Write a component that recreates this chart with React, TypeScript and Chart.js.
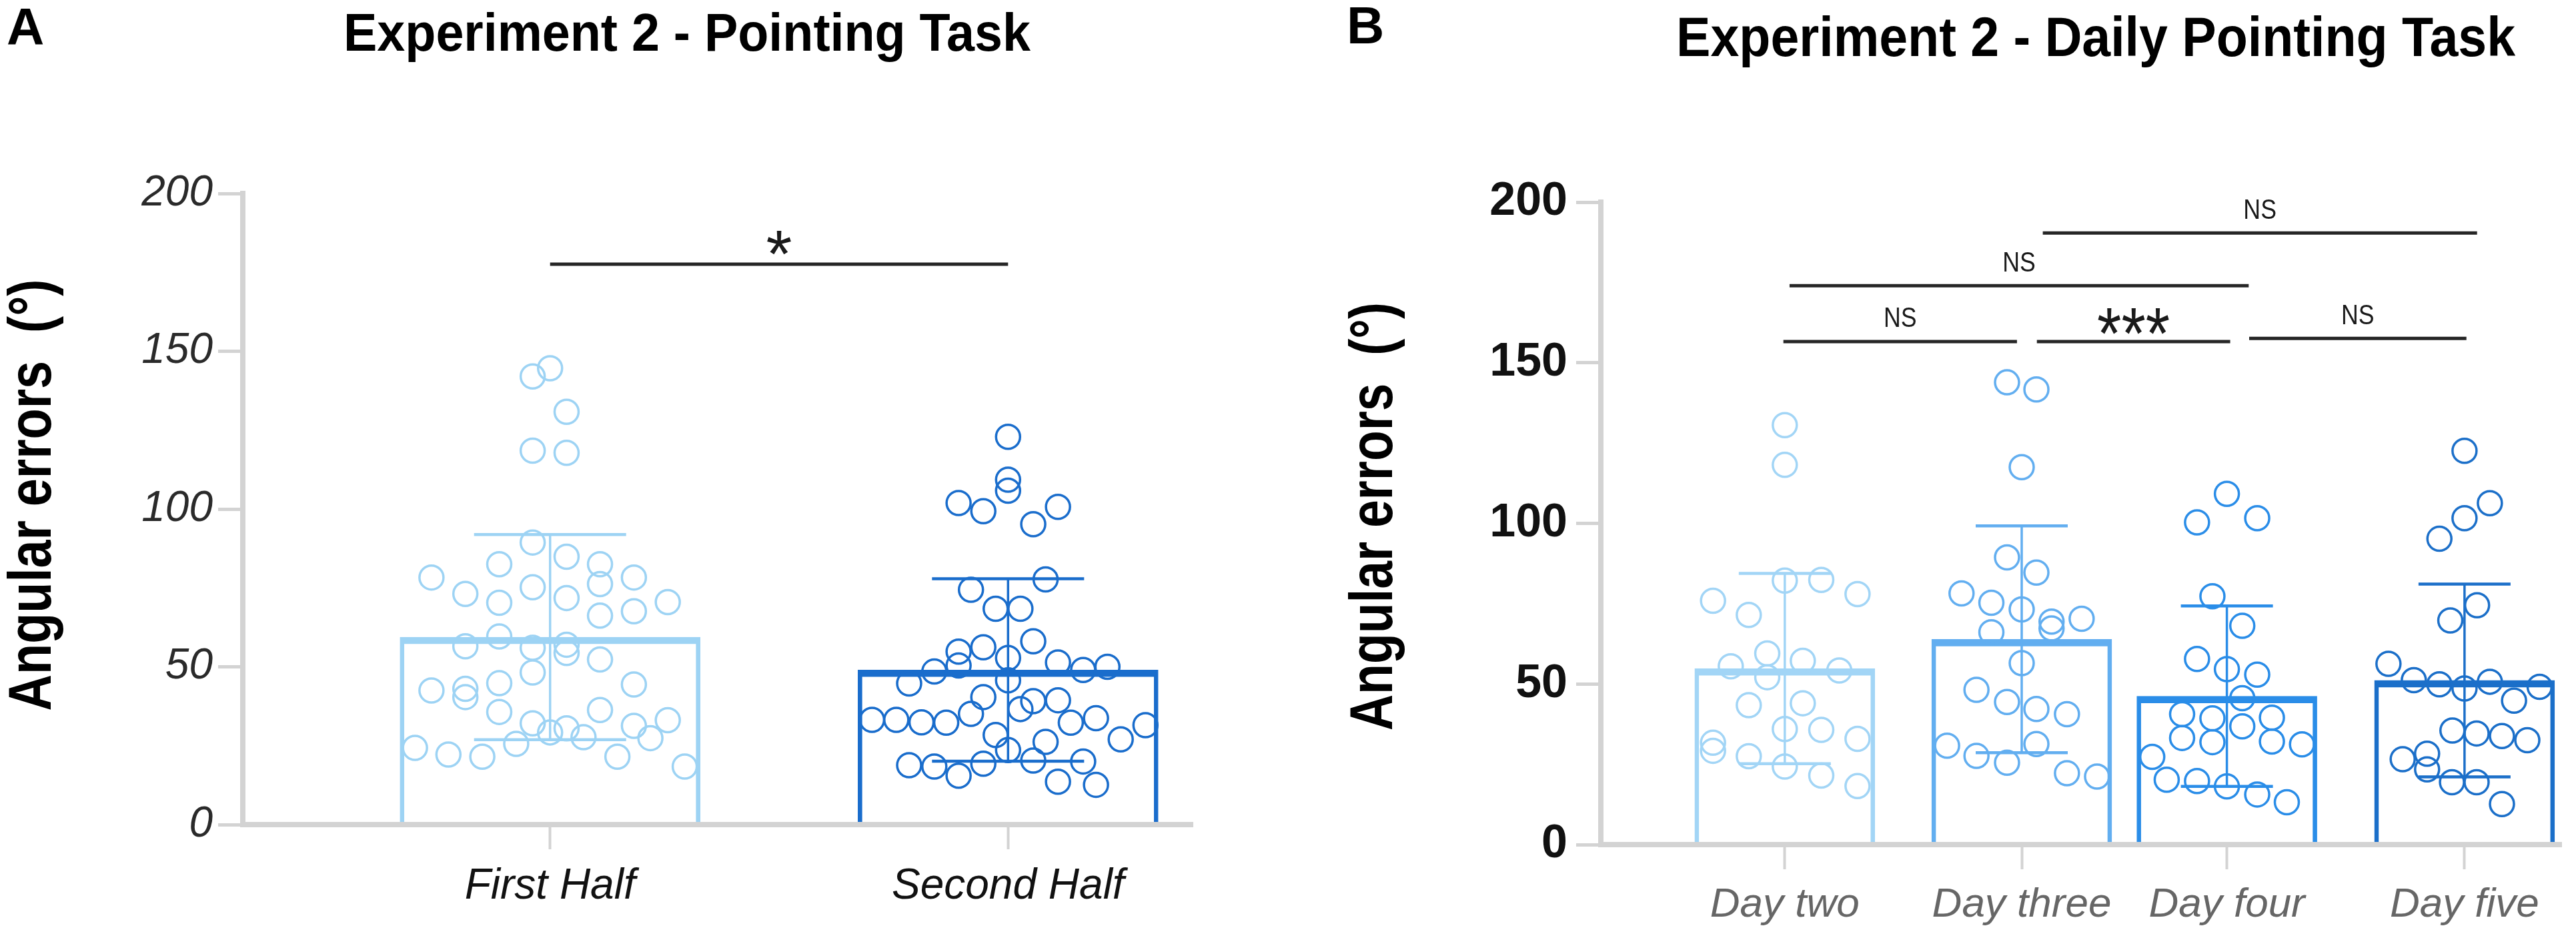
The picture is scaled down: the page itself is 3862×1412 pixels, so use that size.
import React, { useEffect, useRef } from 'react';
import { Chart, registerables } from 'chart.js';

Chart.register(...registerables);

const SANS = "'Liberation Sans', Arial, Helvetica, sans-serif";
const AXIS = '#d3d3d3';

// ---------------- Panel A : Experiment 2 - Pointing Task ----------------
const aTitle = 'Experiment 2 - Pointing Task';
const aCategories = ['First Half', 'Second Half'];
const aPositions = [1, 2];
const aMeans = [59.4, 49.0];
const aSD = [32.5, 28.9];
const aColors = ['#9dd3f4', '#1a6dcc'];
const aYTicks = [0, 50, 100, 150, 200];

const aFirstValues = [
  142.0, 144.6, 130.8, 118.5, 117.8, 89.4, 82.5, 84.9, 82.5, 78.3, 78.3, 73.1, 75.2, 76.2, 70.3, 71.8,
  70.5, 66.2, 67.6, 59.6, 56.5, 56.0, 57.0, 54.4, 52.3, 48.2, 42.5, 43.0, 40.4, 44.8, 44.4, 35.7,
  36.3, 32.1, 29.2, 30.5, 27.7, 31.3, 33.1, 27.4, 25.6, 24.3, 22.2, 21.5, 21.5, 18.4,
];
const aFirstJitter = [
  -0.038, 0, 0.036, -0.038, 0.036, -0.038, -0.111, 0.036, 0.109, -0.259, 0.183, -0.185, -0.038, 0.109, -0.111, 0.036,
  0.257, 0.109, 0.183, -0.111, -0.185, -0.038, 0.036, 0.036, 0.109, -0.038, -0.259, -0.185, -0.185, -0.111, 0.183, -0.111,
  0.109, -0.038, 0, 0.036, 0.073, 0.183, 0.257, 0.219, -0.074, -0.295, -0.222, -0.148, 0.147, 0.294,
];
const aSecondValues = [
  122.9, 109.3, 105.8, 101.9, 99.3, 100.7, 95.2, 77.7, 74.4, 68.4, 68.4, 58.1, 54.8, 56.2, 52.8, 50.4,
  48.5, 51.4, 49.0, 50.0, 44.7, 45.7, 40.4, 39.1, 39.4, 36.6, 35.1, 33.2, 33.2, 32.4, 32.3, 32.3,
  33.7, 31.5, 27.0, 28.4, 26.2, 23.6, 18.8, 18.4, 15.5, 19.3, 20.3, 20.0, 13.6, 12.6,
];
const aSecondJitter = [
  0, 0, 0, -0.108, -0.054, 0.109, 0.055, 0.082, -0.081, -0.027, 0.027, 0.055, -0.108, -0.054, 0, -0.108,
  -0.161, 0.109, 0.164, 0.217, -0.216, 0, -0.054, 0.055, 0.109, 0.027, -0.081, -0.297, -0.244, -0.189, -0.135, 0.137,
  0.192, 0.300, 0.246, -0.027, 0.082, 0, -0.216, -0.161, -0.108, -0.054, 0.055, 0.164, 0.109, 0.192,
];
const aSigFrom = [1];
const aSigTo = [2];
const aSigY = [177.6];
const aSigLabels = ['*'];

// ---------------- Panel B : Experiment 2 - Daily Pointing Task ----------------
const bTitle = 'Experiment 2 - Daily Pointing Task';
const bCategories = ['Day two', 'Day three', 'Day four', 'Day five'];
const bPositions = [1, 2, 2.866, 3.869];
const bMeans = [54.8, 63.9, 46.2, 51.1];
const bSD = [29.6, 35.3, 28.1, 30.0];
const bColors = ['#a2d5f6', '#62aef0', '#2a8de8', '#1b6fc9'];
const bYTicks = [0, 50, 100, 150, 200];

const bDay2Values = [
  130.6, 118.2, 82.2, 82.4, 75.9, 78.0, 71.5, 59.5, 55.5, 57.2, 54.2, 52.1, 43.4, 44.0, 36.0, 35.7,
  32.9, 31.7, 29.2, 27.5, 24.3, 21.5, 18.2,
];
const bDay2Jitter = [
  0, 0, 0, 0.154, -0.303, 0.307, -0.152, -0.074, -0.228, 0.076, 0.230, -0.074, -0.152, 0.076, 0, 0.154,
  0.307, -0.303, -0.303, -0.152, 0, 0.154, 0.307,
];
const bDay3Values = [
  143.9, 141.7, 117.5, 89.4, 84.7, 78.2, 75.3, 73.2, 69.4, 67.3, 70.3, 66.1, 56.5, 48.2, 44.4, 42.2,
  40.6, 30.8, 31.3, 27.6, 25.5, 22.2, 21.2,
];
const bDay3Jitter = [
  -0.062, 0.062, 0, -0.062, 0.062, -0.254, -0.128, 0, 0.126, 0.126, 0.253, -0.128, 0, -0.191, -0.062, 0.062,
  0.191, -0.315, 0.062, -0.191, -0.062, 0.191, 0.318,
];
const bDay4Values = [
  109.2, 100.3, 101.6, 77.3, 68.1, 57.8, 54.6, 52.9, 45.6, 40.6, 39.3, 36.8, 39.5, 33.2, 31.9, 32.1,
  31.2, 27.3, 20.2, 19.8, 18.1, 15.6, 13.2,
];
const bDay4Jitter = [
  0, -0.126, 0.128, -0.061, 0.065, -0.126, 0, 0.128, 0.065, -0.189, -0.061, 0.065, 0.190, -0.189, -0.061, 0.190,
  0.317, -0.315, -0.254, -0.126, 0, 0.128, 0.253,
];
const bDay5Values = [
  122.6, 106.3, 101.6, 95.2, 74.5, 69.8, 56.3, 51.2, 49.9, 48.6, 50.7, 44.8, 49.1, 35.5, 34.6, 33.8,
  32.5, 28.3, 26.6, 23.4, 19.4, 19.4, 12.6,
];
const bDay5Jitter = [
  0, 0.107, 0, -0.106, 0.053, -0.06, -0.321, -0.214, -0.106, 0, 0.107, 0.209, 0.317, -0.051, 0.051, 0.158,
  0.265, -0.158, -0.261, -0.158, -0.053, 0.051, 0.158,
];
const bSigFrom = [2.089, 1.02, 0.994, 2.064, 2.96];
const bSigTo = [3.922, 2.958, 1.98, 2.88, 3.877];
const bSigY = [190.4, 174.0, 156.6, 156.6, 157.6];
const bSigLabels = ['NS', 'NS', 'NS', '***', 'NS'];

type Spec = {
  width: number; height: number;
  plotLeft: number; plotRight: number; plotTop: number; plotBottom: number;
  xMin: number; xMax: number;
  positions: number[]; categories: string[]; means: number[]; sds: number[]; colors: string[];
  yTicks: number[];
  groups: { values: number[]; jitter: number[] }[];
  barPx: number; capPx: number;
  yTickFont: any; yTickColor: string; yTickPad: number;
  xTickFont: any; xTickColor: string; xTickPad: number;
  letter: string; letterX: number; letterY: number;
  title: string; titleCX: number; titleY: number; titleW: number; titleSize: number;
  yTitleX: number; yTitleCY: number; yTitleLen: number;
  sigFrom: number[]; sigTo: number[]; sigY: number[]; sigLabels: string[];
  sigFont: string; sigScale: number; starFont: string; starScale: number; sigGap: number; starGap: number;
};

function inkCentered(ctx: CanvasRenderingContext2D, text: string, font: string, cx: number, cy: number, sx: number) {
  ctx.save();
  ctx.font = font;
  ctx.textAlign = 'center';
  ctx.textBaseline = 'alphabetic';
  const m = ctx.measureText(text);
  const base = cy + (m.actualBoundingBoxAscent - m.actualBoundingBoxDescent) / 2;
  ctx.translate(cx, base);
  ctx.scale(sx, 1);
  ctx.fillText(text, 0, 0);
  ctx.restore();
}

function makeConfig(spec: Spec): any {
  const overlay = {
    id: 'overlay',
    afterDatasetsDraw(chart: any) {
      const ctx: CanvasRenderingContext2D = chart.ctx;
      const xs = chart.scales.x;
      const ys = chart.scales.y;
      ctx.save();
      spec.positions.forEach((p, i) => {
        const x = xs.getPixelForValue(p);
        const yt = ys.getPixelForValue(spec.means[i] + spec.sds[i]);
        const yb = ys.getPixelForValue(spec.means[i] - spec.sds[i]);
        ctx.strokeStyle = spec.colors[i];
        ctx.lineWidth = 3.5;
        ctx.beginPath();
        ctx.moveTo(x, yt);
        ctx.lineTo(x, yb);
        ctx.stroke();
        ctx.lineWidth = 4.5;
        ctx.beginPath();
        ctx.moveTo(x - spec.capPx / 2, yt);
        ctx.lineTo(x + spec.capPx / 2, yt);
        ctx.moveTo(x - spec.capPx / 2, yb);
        ctx.lineTo(x + spec.capPx / 2, yb);
        ctx.stroke();
      });
      ctx.restore();
    },
    afterDraw(chart: any) {
      const ctx: CanvasRenderingContext2D = chart.ctx;
      const xs = chart.scales.x;
      const ys = chart.scales.y;
      ctx.save();
      ctx.fillStyle = '#000';
      // panel letter
      ctx.font = `bold 78px ${SANS}`;
      ctx.textAlign = 'left';
      ctx.textBaseline = 'alphabetic';
      ctx.fillText(spec.letter, spec.letterX, spec.letterY);
      // title (condensed bold look)
      ctx.save();
      ctx.font = `bold ${spec.titleSize}px ${SANS}`;
      const tw = ctx.measureText(spec.title).width;
      ctx.translate(spec.titleCX, spec.titleY);
      ctx.scale(spec.titleW / tw, 1);
      ctx.textAlign = 'center';
      ctx.fillText(spec.title, 0, 0);
      ctx.restore();
      // y axis title
      ctx.save();
      const yTitle = 'Angular errors  (°)';
      ctx.font = `bold 90px ${SANS}`;
      const yw = ctx.measureText(yTitle).width;
      ctx.translate(spec.yTitleX, spec.yTitleCY);
      ctx.rotate(-Math.PI / 2);
      ctx.scale(spec.yTitleLen / yw, 1);
      ctx.textAlign = 'center';
      ctx.fillText(yTitle, 0, 0);
      ctx.restore();
      // significance brackets
      spec.sigLabels.forEach((lab, i) => {
        const x1 = xs.getPixelForValue(spec.sigFrom[i]);
        const x2 = xs.getPixelForValue(spec.sigTo[i]);
        const y = ys.getPixelForValue(spec.sigY[i]);
        ctx.strokeStyle = '#262626';
        ctx.lineWidth = 5;
        ctx.beginPath();
        ctx.moveTo(x1, y);
        ctx.lineTo(x2, y);
        ctx.stroke();
        ctx.fillStyle = '#1a1a1a';
        const isStar = lab.indexOf('*') >= 0;
        inkCentered(
          ctx,
          lab,
          isStar ? spec.starFont : spec.sigFont,
          (x1 + x2) / 2,
          y - (isStar ? spec.starGap : spec.sigGap),
          isStar ? spec.starScale : spec.sigScale,
        );
      });
      ctx.restore();
    },
  };

  const scatterSets = spec.groups.map((g, gi) => ({
    type: 'scatter',
    order: 1,
    data: g.values.map((v, i) => ({ x: spec.positions[gi] + g.jitter[i], y: v })),
    showLine: false,
    pointRadius: 18,
    pointBorderWidth: 3.5,
    pointBackgroundColor: 'rgba(255,255,255,0)',
    pointBorderColor: spec.colors[gi],
    clip: false,
  }));

  const barSet = {
    type: 'bar',
    order: 5,
    data: spec.positions.map((p, i) => ({ x: p, y: spec.means[i] })),
    backgroundColor: 'rgba(255,255,255,0)',
    borderColor: spec.colors,
    borderWidth: { top: 10, left: 6, right: 6, bottom: 0 },
    borderSkipped: false,
    barThickness: spec.barPx,
  };

  return {
    type: 'bar',
    data: { datasets: [...scatterSets, barSet] },
    options: {
      responsive: false,
      maintainAspectRatio: false,
      animation: false,
      events: [],
      layout: { padding: { left: 0, top: spec.plotTop, right: spec.width - spec.plotRight, bottom: 0 } },
      plugins: { legend: { display: false }, tooltip: { enabled: false }, title: { display: false } },
      scales: {
        x: {
          type: 'linear',
          offset: false,
          min: spec.xMin,
          max: spec.xMax,
          afterBuildTicks: (s: any) => {
            s.ticks = spec.positions.map((v) => ({ value: v }));
          },
          afterFit: (s: any) => {
            s.height = spec.height - spec.plotBottom;
          },
          ticks: {
            autoSkip: false,
            maxRotation: 0,
            callback: (v: any) => {
              const i = spec.positions.indexOf(v);
              return i >= 0 ? spec.categories[i] : '';
            },
            font: spec.xTickFont,
            color: spec.xTickColor,
            padding: spec.xTickPad,
          },
          grid: {
            offset: false,
            drawOnChartArea: false,
            drawTicks: true,
            tickLength: 37,
            tickWidth: 4,
            tickColor: AXIS,
            color: AXIS,
          },
          border: { display: true, color: AXIS, width: 8, z: 1 },
        },
        y: {
          type: 'linear',
          min: 0,
          max: 200,
          afterBuildTicks: (s: any) => {
            s.ticks = spec.yTicks.map((v) => ({ value: v }));
          },
          afterFit: (s: any) => {
            s.width = spec.plotLeft;
          },
          ticks: {
            font: spec.yTickFont,
            color: spec.yTickColor,
            padding: spec.yTickPad,
          },
          grid: { drawOnChartArea: false, drawTicks: true, tickLength: 37, tickWidth: 5, tickColor: AXIS, color: AXIS },
          border: { display: true, color: AXIS, width: 8, z: 1 },
        },
      },
    },
    plugins: [overlay],
  };
}

const specA: Spec = {
  width: 1900, height: 1412,
  plotLeft: 364, plotRight: 1788, plotTop: 290, plotBottom: 1236,
  xMin: 0.329, xMax: 2.403,
  positions: aPositions, categories: aCategories, means: aMeans, sds: aSD, colors: aColors,
  yTicks: aYTicks,
  groups: [
    { values: aFirstValues, jitter: aFirstJitter },
    { values: aSecondValues, jitter: aSecondJitter },
  ],
  barPx: 450, capPx: 228,
  yTickFont: { family: SANS, size: 64, style: 'italic', lineHeight: 1 },
  yTickColor: '#2a2a2a', yTickPad: 8,
  xTickFont: { family: SANS, size: 64, style: 'italic', lineHeight: 1 },
  xTickColor: '#111', xTickPad: 24,
  letter: 'A', letterX: 10, letterY: 67,
  title: aTitle, titleCX: 1030, titleY: 76, titleW: 1030, titleSize: 80,
  yTitleX: 76, yTitleCY: 742, yTitleLen: 647,
  sigFrom: aSigFrom, sigTo: aSigTo, sigY: aSigY, sigLabels: aSigLabels,
  sigFont: `42px ${SANS}`, sigScale: 0.85, starFont: `100px ${SANS}`, starScale: 1, sigGap: 36, starGap: 32,
};

const specB: Spec = {
  width: 1962, height: 1412,
  plotLeft: 500, plotRight: 1952, plotTop: 303, plotBottom: 1266,
  xMin: 0.2235, xMax: 4.279,
  positions: bPositions, categories: bCategories, means: bMeans, sds: bSD, colors: bColors,
  yTicks: bYTicks,
  groups: [
    { values: bDay2Values, jitter: bDay2Jitter },
    { values: bDay3Values, jitter: bDay3Jitter },
    { values: bDay4Values, jitter: bDay4Jitter },
    { values: bDay5Values, jitter: bDay5Jitter },
  ],
  barPx: 270, capPx: 138,
  yTickFont: { family: SANS, size: 70, weight: 'bold', lineHeight: 1 },
  yTickColor: '#111', yTickPad: 13,
  xTickFont: { family: SANS, size: 62, style: 'italic', lineHeight: 1 },
  xTickColor: '#666', xTickPad: 23,
  letter: 'B', letterX: 119, letterY: 65,
  title: bTitle, titleCX: 1242, titleY: 84, titleW: 1258, titleSize: 84,
  yTitleX: 187, yTitleCY: 774, yTitleLen: 642,
  sigFrom: bSigFrom, sigTo: bSigTo, sigY: bSigY, sigLabels: bSigLabels,
  sigFont: `42px ${SANS}`, sigScale: 0.85, starFont: `110px ${SANS}`, starScale: 0.85, sigGap: 36, starGap: 30,
};

function Panel({ spec, left }: { spec: Spec; left: number }) {
  const ref = useRef<HTMLCanvasElement | null>(null);
  useEffect(() => {
    if (!ref.current) return;
    const chart = new Chart(ref.current, makeConfig(spec));
    return () => chart.destroy();
  }, [spec]);
  return (
    <canvas
      ref={ref}
      width={spec.width}
      height={spec.height}
      style={{ position: 'absolute', left, top: 0, width: spec.width, height: spec.height }}
    />
  );
}

export default function App() {
  return (
    <div
      style={{
        position: 'fixed',
        left: 0,
        top: 0,
        width: 3862,
        height: 1412,
        background: '#ffffff',
        overflow: 'hidden',
      }}
    >
      <Panel spec={specA} left={0} />
      <Panel spec={specB} left={1900} />
    </div>
  );
}
